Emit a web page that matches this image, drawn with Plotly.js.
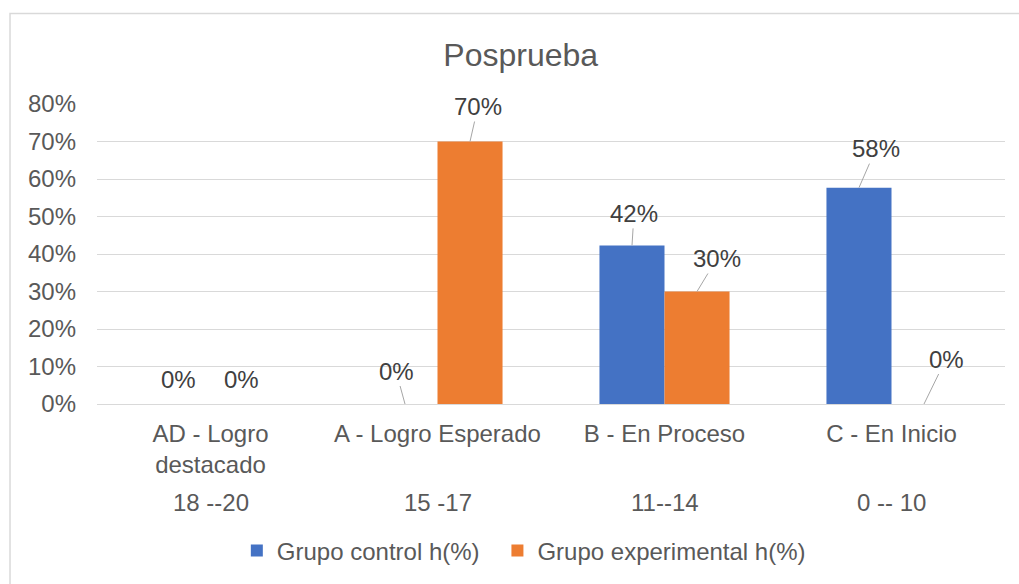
<!DOCTYPE html>
<html>
<head>
<meta charset="utf-8">
<script src="https://cdn.plot.ly/plotly-3.0.1.min.js"></script>
<style>
  html, body { margin: 0; padding: 0; background: #ffffff; }
  #chart { width: 1019px; height: 584px; }
</style>
</head>
<body>
<div id="chart"></div>
<script>
// ---- data ----
const categories = ["AD - Logro destacado", "A - Logro Esperado", "B - En Proceso", "C - En Inicio"];
const categoryTickLabels = ["AD - Logro<br>destacado", "A - Logro Esperado", "B - En Proceso", "C - En Inicio"];
const scoreRanges = ["18 --20", "15 -17", "11--14", "0 -- 10"];
const seriesNames = ["Grupo control h(%)", "Grupo experimental h(%)"];
const controlValues = [0, 0, 0.423, 0.577];
const experimentalValues = [0, 0.70, 0.30, 0];

// ---- styling (label placement offsets, px) ----
const colors = ["#4472C4", "#ED7D31"];
const labelOffsets = [
  // [ax, ay, showLeader] for control series
  [[0, -25, false], [-9, -33, true], [2, -32, true], [17, -39, true]],
  // experimental series
  [[-2, -25, false], [8, -35, true], [20, -33, true], [22, -45, true]]
];
const legendX = [0.154, 0.441];

const FONT = "Liberation Sans, Arial, sans-serif";
const FS = 24;
const seriesValues = [controlValues, experimentalValues];

const traces = seriesValues.map((vals, i) => ({
  type: "bar",
  name: seriesNames[i],
  x: categories,
  y: vals,
  marker: { color: colors[i] },
  legend: i === 0 ? "legend" : "legend2",
  hoverinfo: "skip"
}));

const annotations = [];
const barShift = 32.5;
seriesValues.forEach((vals, s) => {
  vals.forEach((v, k) => {
    const o = labelOffsets[s][k];
    annotations.push({
      x: categories[k], y: v, xref: "x", yref: "y",
      xshift: s === 0 ? -barShift : barShift,
      text: Math.round(v * 100) + "%",
      showarrow: true, arrowhead: 0, arrowwidth: 1, standoff: 0,
      arrowcolor: o[2] ? "#A6A6A6" : "rgba(0,0,0,0)",
      ax: o[0], ay: o[1],
      font: { family: FONT, size: FS, color: "#404040" }
    });
  });
});
scoreRanges.forEach((r, k) => {
  annotations.push({
    x: categories[k], y: 0, xref: "x", yref: "paper",
    yanchor: "middle", yshift: -98,
    text: r, showarrow: false,
    font: { family: FONT, size: FS, color: "#595959" }
  });
});

function legendCfg(x) {
  return {
    orientation: "h", x: x, xanchor: "left",
    y: -0.485, yanchor: "middle", yref: "paper",
    font: { family: FONT, size: FS, color: "#595959" },
    bgcolor: "rgba(0,0,0,0)",
    itemclick: false, itemdoubleclick: false
  };
}

const layout = {
  width: 1019, height: 584,
  margin: { l: 97, r: 14, t: 104, b: 179 },
  paper_bgcolor: "#ffffff", plot_bgcolor: "#ffffff",
  font: { family: FONT, size: FS, color: "#595959" },
  title: {
    text: "Posprueba", xref: "container", x: 0.511, xanchor: "center",
    yref: "container", y: 0.906, yanchor: "middle",
    font: { family: FONT, size: 32, color: "#595959" }
  },
  barmode: "group", bargap: 0.427, bargroupgap: 0,
  xaxis: {
    type: "category",
    tickvals: categories, ticktext: categoryTickLabels,
    showgrid: false, zeroline: false, showline: false, ticks: "",
    ticklabelstandoff: 13,
    tickfont: { family: FONT, size: FS, color: "#595959" },
    fixedrange: true
  },
  yaxis: {
    range: [0, 0.8], dtick: 0.1, tick0: 0, tickformat: ".0%",
    showgrid: true, gridcolor: "#D9D9D9", gridwidth: 1,
    zeroline: true, zerolinecolor: "#D9D9D9", zerolinewidth: 1,
    showline: false, ticks: "", ticklabelstandoff: 20,
    tickfont: { family: FONT, size: FS, color: "#595959" },
    fixedrange: true
  },
  showlegend: true,
  legend: legendCfg(legendX[0]),
  legend2: legendCfg(legendX[1]),
  annotations: annotations,
  shapes: [{
    type: "rect", xref: "paper", yref: "paper",
    x0: -0.0958, x1: 1.03, y0: -0.7, y1: 1.302,
    line: { color: "#D9D9D9", width: 1.5 }, fillcolor: "rgba(0,0,0,0)", layer: "below"
  }]
};

Plotly.newPlot("chart", traces, layout, { displayModeBar: false, staticPlot: true });
</script>
</body>
</html>
